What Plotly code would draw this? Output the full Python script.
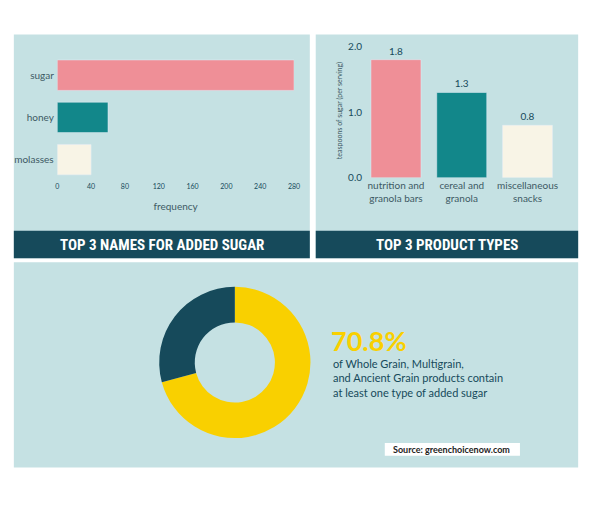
import plotly.graph_objects as go

W, H = 596, 505

names = ["sugar", "honey", "molasses"]
name_freq = [280, 60, 40]
name_colors = ["#ef8f97", "#12878a", "#f8f4e6"]

products = ["nutrition and<br>granola bars", "cereal and<br>granola", "miscellaneous<br>snacks"]
product_tsp = [1.8, 1.3, 0.8]

grain_labels = ["contain added sugar", "other"]
grain_share = [70.8, 29.2]

PANEL = "#c5e1e3"
DARK = "#164a5b"
TXT = "#3d5a63"


def px(x):
    return x / W


def py(y):
    return 1 - y / H


def rect(x0, y0, x1, y1, color):
    return dict(type="rect", xref="paper", yref="paper", x0=px(x0), x1=px(x1),
                y0=py(y1), y1=py(y0), fillcolor=color, line=dict(width=0), layer="below")


fig = go.Figure()

fig.add_trace(go.Bar(
    x=name_freq, y=names, orientation="h", marker=dict(color=name_colors),
    width=0.72, xaxis="x", yaxis="y", hoverinfo="x+y"))

fig.add_trace(go.Bar(
    x=products, y=product_tsp, marker=dict(color=name_colors), width=0.76,
    text=[f"{v:.1f}" for v in product_tsp], textposition="outside",
    textfont=dict(size=10, color=DARK), cliponaxis=False,
    xaxis="x2", yaxis="y2"))

fig.add_trace(go.Pie(
    values=grain_share, labels=grain_labels, hole=0.53, sort=False, direction="clockwise",
    rotation=0, marker=dict(colors=["#f9d000", DARK]), textinfo="none",
    domain=dict(x=[px(159), px(313)], y=[py(443), py(289)])))

shapes = [
    rect(12, 32, 312, 260, PANEL),
    rect(318, 32, 584, 260, PANEL),
    rect(12, 264, 584, 473, PANEL),
    rect(12, 232, 312, 260, DARK),
    rect(318, 232, 584, 260, DARK),
    rect(388, 448, 525, 461, "white"),
]

ann = [
    dict(x=px(162), y=py(246), text="<b>TOP 3 NAMES FOR ADDED SUGAR</b>",
         font=dict(size=15, color="white", family="Roboto Condensed, Roboto")),
    dict(x=px(451), y=py(246), text="<b>TOP 3 PRODUCT TYPES</b>",
         font=dict(size=15, color="white", family="Roboto Condensed, Roboto")),
    dict(x=px(331), y=py(344), text="<b>70.8%</b>", xanchor="left",
         font=dict(size=27, color="#f9d000", family="Lato")),
    dict(x=px(333), y=py(382), xanchor="left", align="left",
         text="of Whole Grain, Multigrain,<br>and Ancient Grain products contain<br>at least one type of added sugar",
         font=dict(size=11, color=DARK)),
    dict(x=px(456), y=py(454.5), text="<b>Source: greenchoicenow.com</b>",
         font=dict(size=9, color="#222")),
]
for a in ann:
    a.update(xref="paper", yref="paper", showarrow=False, yanchor="middle")
    a.setdefault("xanchor", "center")

fig.update_layout(
    width=W, height=H, margin=dict(l=0, r=0, t=0, b=0),
    paper_bgcolor="white", plot_bgcolor="rgba(0,0,0,0)",
    showlegend=False, bargap=0.3,
    font=dict(family="Lato", color=TXT, size=9),
    shapes=shapes, annotations=ann,
    xaxis=dict(domain=[px(56), px(296)], range=[0, 280], tickvals=[0, 40, 80, 120, 160, 200, 240, 280],
               showgrid=False, zeroline=False, tickfont=dict(size=7, color=DARK),
               title=dict(text="frequency", font=dict(size=10, color=TXT), standoff=14),
               anchor="y"),
    yaxis=dict(domain=[py(181), py(52)], autorange="reversed", showgrid=False,
               tickfont=dict(size=10, color=TXT), ticksuffix=" ", anchor="x"),
    xaxis2=dict(domain=[px(366), px(566)], showgrid=False, tickfont=dict(size=10, color=TXT),
                anchor="y2"),
    yaxis2=dict(domain=[py(178), py(41)], range=[0, 2.05], tickvals=[0, 1, 2],
                tickformat=".1f", showgrid=False, zeroline=False,
                tickfont=dict(size=10, color=DARK), ticksuffix=" ",
                title=dict(text="teaspoons of sugar (per serving)", font=dict(size=7, color=TXT), standoff=4),
                anchor="x2"),
)

fig.write_html("out.html", config={"displayModeBar": False},
               post_script="document.body.style.margin='0';")
